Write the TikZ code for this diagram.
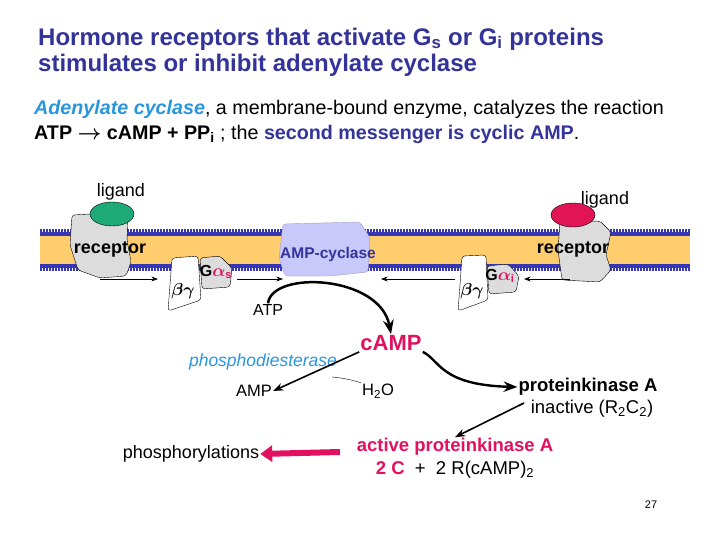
\documentclass[tikz,border=0pt]{standalone}
\usepackage{fontspec}
\setmainfont{Liberation Sans}
\usetikzlibrary{arrows.meta}
\definecolor{titleblue}{RGB}{51,51,153}
\definecolor{skyblue}{RGB}{40,150,220}
\definecolor{hotpink}{RGB}{225,17,95}
\definecolor{lipid}{RGB}{255,204,110}
\definecolor{headblue}{RGB}{55,55,180}
\definecolor{lavender}{RGB}{200,200,250}
\definecolor{protgrey}{RGB}{220,220,220}
\definecolor{ligreen}{RGB}{30,170,120}
\definecolor{ligred}{RGB}{225,20,85}
\begin{document}
\begin{tikzpicture}[x=1pt,y=-1pt,>={Stealth}]
  \tikzstyle{lbl}=[inner sep=1pt,font=\fontsize{18}{20}\selectfont]
  \tikzstyle{blbl}=[lbl,font=\fontsize{18}{20}\selectfont\bfseries]
  \tikzstyle{glbl}=[lbl,font=\fontsize{16}{18}\selectfont\bfseries\boldmath]
  \tikzstyle{prot}=[draw=black,thin,rounded corners=3pt]
  \tikzstyle{arr}=[->,thick]
  \useasboundingbox (0,0) rectangle (720,540);
  % header
  \node[anchor=west,text=titleblue,font=\fontsize{24}{26}\selectfont\bfseries,align=left,inner sep=0pt] (title) at (38,52)
    {Hormone receptors that activate G\textsubscript{s} or G\textsubscript{i} proteins\\stimulates or inhibit adenylate cyclase};
  \node[anchor=west,font=\fontsize{19.7}{25}\selectfont,align=left,inner sep=0pt] (intro) at (34,122)
    {\textcolor{skyblue}{\bfseries\itshape Adenylate cyclase}, a membrane-bound enzyme, catalyzes the reaction\\
     \textbf{\boldmath ATP $\rightarrow$ cAMP + PP\textsubscript{i}} ; the \textcolor{titleblue}{\bfseries second messenger is cyclic AMP}.};
  % membrane
  \fill[lipid] (40,234) rectangle (690,266);
  \draw[headblue,line width=4.5pt] (40,234) -- (690,234) (40,266) -- (690,266);
  \draw[headblue,line width=4pt,dash pattern=on 1.5pt off 1.5pt] (40,231) -- (690,231) (40,269) -- (690,269);
  % proteins
  \draw[prot,fill=protgrey] (72,215) -- (128,212) -- (127,240) -- (131,262) -- (126,276) -- (100,278) -- (78,270) -- (70,245) -- cycle;
  \fill[ligreen,draw=black,thin] (112,214) ellipse (22 and 12);
  \draw[prot,fill=protgrey] (560,222) -- (600,221) -- (611,232) -- (606,255) -- (611,270) -- (600,282) -- (562,280) -- (558,250) -- cycle;
  \fill[ligred,draw=black,thin] (573,215) ellipse (22 and 12);
  \draw[prot,fill=lavender,draw=lavender!80!black] (283,224) -- (360,222) -- (370,238) -- (368,272) -- (330,276) -- (285,276) -- (279,258) -- cycle;
  \draw[prot,fill=protgrey] (200,258) -- (220,256) -- (232,268) -- (230,287) -- (202,289) -- cycle;
  \draw[prot,fill=white] (172,258) -- (198,256) -- (201,300) -- (168,311) -- (170,285) -- cycle;
  \draw[prot,fill=protgrey] (487,266) -- (508,264) -- (519,276) -- (516,292) -- (489,294) -- cycle;
  \draw[prot,fill=white] (462,256) -- (486,255) -- (488,300) -- (458,311) -- (460,285) -- cycle;
  % labels on the membrane
  \node[lbl] (ligL) at (121,192) {ligand};
  \node[lbl] (ligR) at (605,200) {ligand};
  \node[blbl] (recL) at (110,249) {receptor};
  \node[blbl] (recR) at (573,249) {receptor};
  \node[lbl,text=titleblue,font=\fontsize{15.5}{17}\selectfont\bfseries] (cyclase) at (328,254) {AMP-cyclase};
  \node[glbl] (gas) at (216,272) {G\textcolor{hotpink}{$\alpha$\textsubscript{s}}};
  \node[glbl] (bgs) at (183,291) {$\beta\gamma$};
  \node[glbl] (gai) at (500,276) {G\textcolor{hotpink}{$\alpha$\textsubscript{i}}};
  \node[glbl] (bgi) at (472,291) {$\beta\gamma$};
  % activation arrows
  \coordinate (a1) at (100,279); \coordinate (a2) at (158,279);
  \coordinate (a3) at (237,279); \coordinate (a4) at (283,279);
  \coordinate (a5) at (455,279); \coordinate (a6) at (381,279);
  \coordinate (a7) at (570,279); \coordinate (a8) at (524,279);
  \draw[arr] (a1) -- (a2);
  \draw[arr] (a3) -- (a4);
  \draw[arr] (a5) -- (a6);
  \draw[arr] (a7) -- (a8);
  % cascade
  \node[lbl,font=\fontsize{16}{18}\selectfont] (atp) at (268,310) {ATP};
  \node[lbl,text=hotpink,font=\fontsize{22}{24}\selectfont\bfseries] (camp) at (391,343) {cAMP};
  \node[lbl,text=skyblue,font=\fontsize{17.5}{19}\selectfont\itshape] (pde) at (263,362) {phosphodiesterase};
  \node[lbl,font=\fontsize{16.5}{18}\selectfont] (amp) at (254,391) {AMP};
  \node[lbl,font=\fontsize{16.5}{18}\selectfont] (water) at (378,391) {H\textsubscript{2}O};
  \node[blbl,font=\fontsize{18.5}{20}\selectfont\bfseries] (pka) at (588,387) {proteinkinase A};
  \node[lbl,font=\fontsize{18.5}{20}\selectfont] (inact) at (592,409) {inactive (R\textsubscript{2}C\textsubscript{2})};
  \node[blbl,text=hotpink,font=\fontsize{18.5}{20}\selectfont\bfseries] (act) at (455,447) {active proteinkinase A};
  \node[lbl,font=\fontsize{18.5}{20}\selectfont] (split) at (455,470) {\textcolor{hotpink}{\bfseries 2 C}\; +\; 2 R(cAMP)\textsubscript{2}};
  \node[lbl] (phos) at (191,454) {phosphorylations};
  \node[lbl,font=\fontsize{11}{13}\selectfont] (page) at (651,505) {27};
  \coordinate (pinkstart) at (340,452);
  \coordinate (inactstart) at (524,403);
  \draw[->,line width=2.5pt] (atp.north) .. controls (272,270) and (380,275) .. (camp.north);
  \draw[->,line width=1.6pt] (camp.south west) -- (amp.east);
  \draw[thin] (332,377) .. controls (345,378) and (355,381) .. (water.north west);
  \draw[->,line width=2.4pt] (camp.south east) .. controls (440,360) and (440,385) .. (pka.west);
  \draw[->,line width=1.6pt] (inactstart) -- (act.north);
  \draw[-{Triangle[length=12pt,width=16pt]},hotpink,line width=6pt] (pinkstart) -- (phos.east);
\end{tikzpicture}
\end{document}
